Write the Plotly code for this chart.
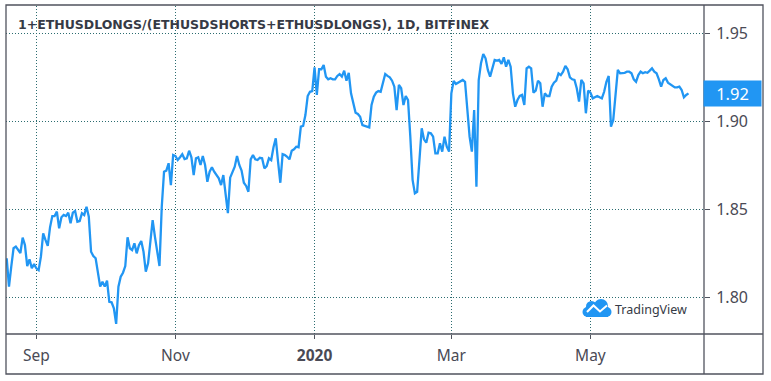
import plotly.graph_objects as go
import pandas as pd

W, H = 771, 381

# ---------------- data ----------------
start_date = "2019-08-19"
day_index = [
    0, 1, 2, 3, 4, 6, 7, 8, 9, 10, 11, 12, 13, 14, 15, 16, 17, 18, 19, 20,
    21, 22, 23, 24, 25, 26, 27, 28, 29, 30, 31, 32, 33, 34, 35, 36, 37, 38, 39, 40,
    41, 42, 43, 44, 45, 46, 47, 48, 49, 50, 51, 52, 53, 54, 55, 56, 57, 58, 59, 60,
    61, 62, 63, 64, 65, 66, 67, 68, 69, 70, 71, 72, 73, 74, 75, 76, 77, 78, 79, 80,
    81, 82, 83, 84, 85, 86, 87, 88, 89, 90, 91, 93, 94, 95, 96, 97, 98, 99, 100, 101,
    102, 103, 104, 105, 106, 107, 108, 109, 110, 111, 112, 113, 114, 115, 116, 117, 118, 119, 120, 121,
    122, 123, 124, 125, 126, 127, 128, 129, 130, 131, 132, 133, 134, 135, 136, 137, 138, 139, 140, 141,
    142, 143, 144, 145, 146, 147, 148, 149, 150, 151, 152, 153, 154, 155, 156, 158, 159, 160, 161, 162,
    163, 164, 165, 166, 167, 168, 169, 170, 171, 172, 173, 174, 175, 176, 177, 178, 179, 180, 181, 182,
    183, 184, 185, 186, 187, 188, 189, 190, 191, 192, 193, 194, 195, 196, 197, 198, 200, 201, 202, 203,
    204, 205, 206, 207, 208, 209, 210, 211, 212, 213, 214, 215, 216, 217, 218, 219, 220, 221, 222, 223,
    224, 225, 226, 227, 228, 229, 230, 231, 232, 233, 234, 235, 236, 237, 238, 239, 240, 241, 242, 243,
    244, 245, 246, 247, 248, 249, 250, 251, 252, 253, 254, 255, 256, 257, 258, 259, 260, 261, 262, 263,
    264, 265, 266, 267, 268, 269, 270, 271, 272, 273, 274, 275, 276, 277, 278, 279, 280, 281, 282, 283,
    284, 285, 286, 287, 288, 289, 290, 291, 292, 293, 294, 295, 296, 297, 298, 299,
]
ratio = [
    1.8220, 1.8059, 1.8172, 1.8277, 1.8286, 1.8250, 1.8337, 1.8295, 1.8176, 1.8214,
    1.8163, 1.8187, 1.8163, 1.8153, 1.8229, 1.8362, 1.8324, 1.8290, 1.8396, 1.8460,
    1.8460, 1.8485, 1.8390, 1.8453, 1.8466, 1.8460, 1.8479, 1.8419, 1.8479, 1.8489,
    1.8428, 1.8432, 1.8476, 1.8466, 1.8513, 1.8456, 1.8257, 1.8233, 1.8220, 1.8125,
    1.8059, 1.8087, 1.8059, 1.8093, 1.7973, 1.7970, 1.7936, 1.7847, 1.8059, 1.8115,
    1.8138, 1.8176, 1.8339, 1.8277, 1.8267, 1.8305, 1.8248, 1.8295, 1.8318, 1.8257,
    1.8144, 1.8191, 1.8324, 1.8437, 1.8343, 1.8248, 1.8176, 1.8513, 1.8712, 1.8718,
    1.8760, 1.8636, 1.8807, 1.8801, 1.8778, 1.8794, 1.8811, 1.8784, 1.8788, 1.8831,
    1.8794, 1.8693, 1.8788, 1.8794, 1.8750, 1.8801, 1.8750, 1.8655, 1.8712, 1.8737,
    1.8712, 1.8674, 1.8636, 1.8693, 1.8598, 1.8476, 1.8678, 1.8706, 1.8740, 1.8801,
    1.8750, 1.8718, 1.8649, 1.8631, 1.8598, 1.8782, 1.8807, 1.8782, 1.8778, 1.8791,
    1.8788, 1.8731, 1.8744, 1.8788, 1.8778, 1.8851, 1.8902, 1.8769, 1.8649, 1.8812,
    1.8807, 1.8797, 1.8782, 1.8831, 1.8839, 1.8854, 1.8851, 1.8968, 1.8972, 1.9034,
    1.9142, 1.9166, 1.9170, 1.9305, 1.9148, 1.9294, 1.9294, 1.9318, 1.9252, 1.9237,
    1.9243, 1.9237, 1.9237, 1.9256, 1.9267, 1.9252, 1.9286, 1.9229, 1.9274, 1.9157,
    1.9091, 1.9047, 1.9040, 1.9024, 1.8977, 1.8968, 1.8964, 1.9091, 1.9138, 1.9161,
    1.9170, 1.9166, 1.9214, 1.9267, 1.9256, 1.9248, 1.9229, 1.9195, 1.9062, 1.9205,
    1.9186, 1.9091, 1.9142, 1.9119, 1.8911, 1.8665, 1.8589, 1.8598, 1.8778, 1.8959,
    1.8896, 1.8877, 1.8934, 1.8930, 1.8911, 1.8816, 1.8816, 1.8873, 1.8826, 1.8911,
    1.8854, 1.8826, 1.9157, 1.9227, 1.9210, 1.9218, 1.9233, 1.9223, 1.9081, 1.8911,
    1.8826, 1.9062, 1.8627, 1.9233, 1.9328, 1.9381, 1.9356, 1.9290, 1.9252, 1.9299,
    1.9347, 1.9343, 1.9347, 1.9324, 1.9362, 1.9309, 1.9347, 1.9309, 1.9157, 1.9081,
    1.9119, 1.9142, 1.9148, 1.9091, 1.9299, 1.9309, 1.9299, 1.9161, 1.9172, 1.9229,
    1.9214, 1.9081, 1.9157, 1.9142, 1.9142, 1.9195, 1.9218, 1.9229, 1.9271, 1.9261,
    1.9280, 1.9313, 1.9294, 1.9248, 1.9237, 1.9233, 1.9186, 1.9110, 1.9233, 1.9214,
    1.9044, 1.9172, 1.9161, 1.9129, 1.9138, 1.9142, 1.9135, 1.9129, 1.9166, 1.9223,
    1.9256, 1.8968, 1.9006, 1.9166, 1.9290, 1.9271, 1.9271, 1.9274, 1.9280, 1.9280,
    1.9271, 1.9237, 1.9223, 1.9261, 1.9280, 1.9271, 1.9277, 1.9274, 1.9286, 1.9299,
    1.9280, 1.9271, 1.9237, 1.9195, 1.9233, 1.9243, 1.9218, 1.9210, 1.9199, 1.9191,
    1.9191, 1.9195, 1.9176, 1.9135, 1.9148, 1.9157,
]

tick_dates = ["2019-09-01", "2019-11-01", "2020-01-01", "2020-03-01", "2020-05-01"]
tick_labels = ["Sep", "Nov", "<b>2020</b>", "Mar", "May"]
y_ticks = [1.80, 1.85, 1.90, 1.95]
title_text = "1+ETHUSDLONGS/(ETHUSDSHORTS+ETHUSDLONGS), 1D, BITFINEX"

# ---------------- styling ----------------
LINE_BLUE = "#2196f3"
GRID = "#2c6c70"
AXIS = "#50535e"
TEXT = "#4a4a55"
FONT = "Noto Sans"

dates = pd.Timestamp(start_date) + pd.to_timedelta(day_index, unit="D")
t0 = pd.Timestamp(start_date)
x_range = [t0 - pd.Timedelta(hours=7.4), t0 + pd.Timedelta(hours=305.8 * 24)]
y_range = [1.77898, 1.96534]


def px(x):
    return x / W


def py(y):
    return 1 - y / H


fig = go.Figure()
fig.add_trace(go.Scatter(
    x=dates, y=ratio, mode="lines",
    line=dict(color=LINE_BLUE, width=2.3),
    hoverinfo="skip", showlegend=False,
))

shapes = []
# outer frame
shapes.append(dict(type="rect", xref="paper", yref="paper",
                   x0=px(6), x1=px(763), y0=py(374), y1=py(5),
                   line=dict(color=AXIS, width=1.3), layer="above"))
# price-scale separator
shapes.append(dict(type="line", xref="paper", yref="paper",
                   x0=px(704), x1=px(704), y0=py(374), y1=py(5),
                   line=dict(color=AXIS, width=1.3), layer="above"))
# time-scale separator
shapes.append(dict(type="line", xref="paper", yref="paper",
                   x0=px(6), x1=px(763), y0=py(334), y1=py(334),
                   line=dict(color=AXIS, width=1.3), layer="above"))

# TradingView logo (cloud)
shapes.append(dict(type="circle", xref="paper", yref="paper",
                   x0=px(586), x1=px(597), y0=py(312), y1=py(301),
                   fillcolor=LINE_BLUE, line=dict(width=0)))
shapes.append(dict(type="circle", xref="paper", yref="paper",
                   x0=px(594), x1=px(608), y0=py(313), y1=py(299),
                   fillcolor=LINE_BLUE, line=dict(width=0)))
shapes.append(dict(type="rect", xref="paper", yref="paper",
                   x0=px(586), x1=px(608), y0=py(317), y1=py(307),
                   fillcolor=LINE_BLUE, line=dict(width=0)))
shapes.append(dict(type="circle", xref="paper", yref="paper",
                   x0=px(582.5), x1=px(592.5), y0=py(317), y1=py(307),
                   fillcolor=LINE_BLUE, line=dict(width=0)))
shapes.append(dict(type="circle", xref="paper", yref="paper",
                   x0=px(601.5), x1=px(611.5), y0=py(317), y1=py(307),
                   fillcolor=LINE_BLUE, line=dict(width=0)))
logo_path = "M {} {} L {} {} L {} {} L {} {}".format(
    px(587), py(312), px(593.5), py(305.5), px(600), py(311.5), px(607), py(305.5))
shapes.append(dict(type="path", xref="paper", yref="paper", path=logo_path,
                   line=dict(color="white", width=2)))

# white tick inside the last-value label
shapes.append(dict(type="line", xref="paper", yref="y",
                   x0=px(704), x1=px(708.5), y0=ratio[-1], y1=ratio[-1],
                   line=dict(color="white", width=1), layer="above"))

annotations = [
    dict(text="<b>" + title_text + "</b>", xref="paper", yref="paper",
         x=px(16), y=py(24), xanchor="left", yanchor="middle", showarrow=False,
         font=dict(family="DejaVu Sans", size=12.5, color="#363a45")),
    dict(text="TradingView", xref="paper", yref="paper",
         x=px(613), y=py(309), xanchor="left", yanchor="middle", showarrow=False,
         font=dict(family=FONT, size=12.5, color="#363a45")),
    dict(text=f"{ratio[-1]:.2f}", xref="paper", yref="y",
         x=px(732.5), y=ratio[-1], xanchor="center", yanchor="middle", showarrow=False,
         bgcolor=LINE_BLUE, width=53, height=21, borderpad=2,
         font=dict(family=FONT, size=16.5, color="white")),
]

fig.update_layout(
    width=W, height=H,
    margin=dict(l=0, r=0, t=0, b=0),
    paper_bgcolor="white", plot_bgcolor="white",
    showlegend=False,
    shapes=shapes,
    annotations=annotations,
    xaxis=dict(
        domain=[px(6), px(704)], range=x_range, type="date",
        tickvals=tick_dates, ticktext=tick_labels,
        showgrid=True, gridcolor=GRID, griddash="1px,2px", gridwidth=1,
        ticks="outside", ticklen=4, tickcolor=AXIS, tickwidth=1,
        tickfont=dict(family=FONT, size=15.5, color=TEXT),
        ticklabelstandoff=3,
        showline=False, zeroline=False, fixedrange=True,
    ),
    yaxis=dict(
        domain=[py(334), py(6)], range=y_range, side="right",
        tickvals=y_ticks, tickformat=".2f",
        showgrid=True, gridcolor=GRID, griddash="1px,2px", gridwidth=1,
        ticks="outside", ticklen=5, tickcolor=AXIS, tickwidth=1,
        tickfont=dict(family=FONT, size=16, color=TEXT),
        ticklabelstandoff=3,
        showline=False, zeroline=False, fixedrange=True,
    ),
)

fig.write_html("out.html", config={"displayModeBar": False})
